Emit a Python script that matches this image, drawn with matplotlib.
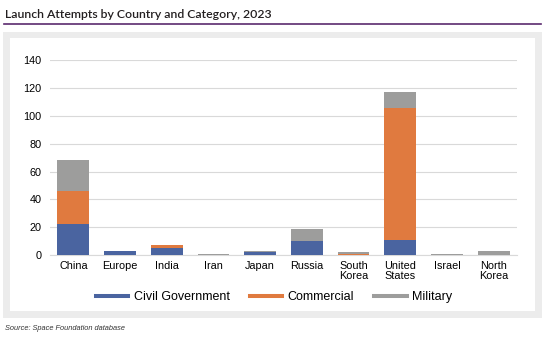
"""Launch attempts by country and category, 2023 - stacked bars."""
import matplotlib
matplotlib.use("Agg")
import matplotlib.pyplot as plt
from matplotlib.patches import Rectangle
from matplotlib.lines import Line2D
import numpy as np

countries = ["China", "Europe", "India", "Iran", "Japan", "Russia",
             "South\nKorea", "United\nStates", "Israel", "North\nKorea"]
civil = [22, 3, 5, 0, 2, 10, 0, 11, 0, 0]
commercial = [24, 0, 2, 0, 0, 0, 1, 95, 0, 0]
military = [22, 0, 0, 1, 1, 9, 1, 11, 1, 3]
series = ["Civil Government", "Commercial", "Military"]
colors = ["#4a64a0", "#e07a3f", "#9d9d9c"]

plt.rcParams["font.family"] = ["Liberation Sans", "DejaVu Sans"]

W, H = 545, 338
fig = plt.figure(figsize=(W / 100, H / 100), dpi=100)

def px(x0, y0, x1, y1):
    # pixel box (top-left origin) -> figure fraction rect
    return (x0 / W, 1 - y1 / H, (x1 - x0) / W, (y1 - y0) / H)

# ----- Frame: gray panel with white inset -----
x, y, w, h = px(3, 32, 542, 318)
fig.patches.append(Rectangle((x, y), w, h, transform=fig.transFigure,
                             facecolor="#ececec", edgecolor="none", zorder=-3))
x, y, w, h = px(10, 38, 535, 311)
fig.patches.append(Rectangle((x, y), w, h, transform=fig.transFigure,
                             facecolor="white", edgecolor="none", zorder=-2))
fig.add_artist(Line2D([4 / W, 541 / W], [1 - 24 / H, 1 - 24 / H],
                      transform=fig.transFigure, color="#5b2a6e", lw=1.2))

fig.text(5 / W, 1 - 14 / H, "Launch Attempts by Country and Category, 2023",
         fontsize=8.8, family=["Lato", "DejaVu Sans"], weight="semibold",
         color="#231f20", va="center", ha="left")
fig.text(5 / W, 1 - 329 / H, "Source: Space Foundation database",
         fontsize=5.3, style="italic", color="#333333", va="center")

# ----- Bars -----
ax = fig.add_axes(px(50, 60.3, 517, 255))
ax.set_zorder(2)
ax.patch.set_alpha(0)
xs = np.arange(len(countries))
bottom = np.zeros(len(countries))
for name, vals, c in zip(series, [civil, commercial, military], colors):
    ax.bar(xs, vals, bottom=bottom, width=0.68, color=c, label=name,
           edgecolor="none", zorder=3)
    bottom += np.array(vals)

ax.set_ylim(0, 140)
ax.set_xlim(-0.5, len(countries) - 0.5)
ax.set_yticks(range(0, 141, 20))
ax.set_xticks(xs)
ax.set_xticklabels(countries, fontsize=7.8, linespacing=1.05)
ax.tick_params(axis="y", labelsize=7.8, length=0, pad=6)
ax.tick_params(axis="x", length=0, pad=4)
ax.grid(axis="y", color="#d9d9d9", lw=0.8, zorder=0)
for s in ["top", "right", "left"]:
    ax.spines[s].set_visible(False)
ax.spines["bottom"].set_color("#d9d9d9")
ax.spines["bottom"].set_linewidth(0.8)

handles = [Line2D([], [], color=c, lw=2.9) for c in colors]
fig.legend(handles, series, loc="center", ncol=3, frameon=False,
           bbox_to_anchor=(274 / W, 1 - 297 / H), fontsize=9,
           handlelength=2.6, columnspacing=1.6, handletextpad=0.45)

fig.savefig("out.png", dpi=100)
